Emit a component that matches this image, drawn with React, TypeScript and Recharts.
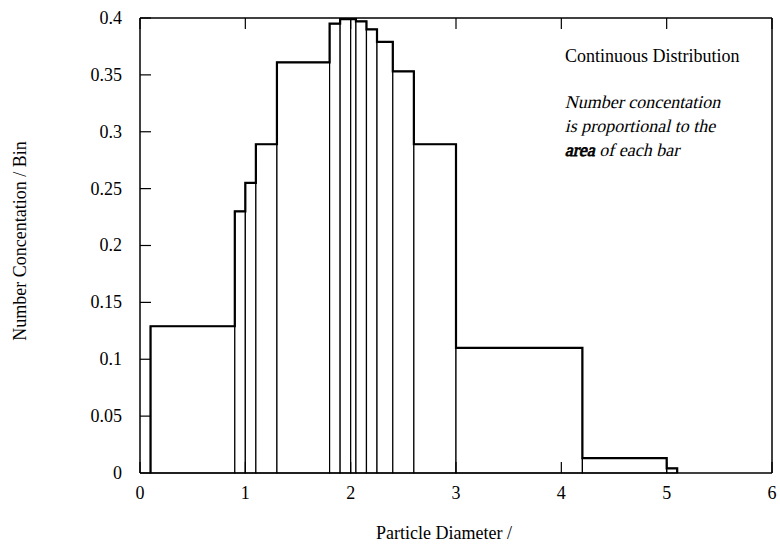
import React from "react";
import {
  ComposedChart,
  Line,
  XAxis,
  YAxis,
  ReferenceArea,
} from "recharts";

// bin edges (particle diameter) and height of each bin
const binEdges = [0.1, 0.9, 1.0, 1.1, 1.3, 1.8, 1.9, 2.0, 2.05, 2.15, 2.25, 2.4, 2.6, 3.0, 4.2, 5.0, 5.1];
const binValues = [0.129, 0.23, 0.255, 0.289, 0.361, 0.395, 0.399, 0.399, 0.397, 0.39, 0.379, 0.353, 0.289, 0.11, 0.013, 0.004];

const xTicks = [0, 1, 2, 3, 4, 5, 6];
const yTicks = [0, 0.05, 0.1, 0.15, 0.2, 0.25, 0.3, 0.35, 0.4];

const FONT = "'Liberation Serif', serif";
const TICK_LEN = 11;

// outline of the histogram as a step line
const outline = [
  { x: binEdges[0], y: 0 },
  ...binValues.map((v, i) => ({ x: binEdges[i], y: v })),
  { x: binEdges[binEdges.length - 1], y: 0 },
];

const LeftTick = (props: any) => {
  const { x, y, payload } = props;
  return (
    <g>
      <line x1={x + 18} x2={x + 18 + TICK_LEN} y1={y} y2={y} stroke="#000" strokeWidth={1.2} />
      <text x={x} y={y} dy="0.33em" textAnchor="end" fontFamily={FONT} fontSize={18} fill="#000">
        {payload.value}
      </text>
    </g>
  );
};

const BottomTick = (props: any) => {
  const { x, y, payload } = props;
  return (
    <g>
      <line x1={x} x2={x} y1={y - 26} y2={y - 26 - TICK_LEN} stroke="#000" strokeWidth={1.2} />
      <text x={x} y={y} textAnchor="middle" fontFamily={FONT} fontSize={18} fill="#000">
        {payload.value}
      </text>
    </g>
  );
};

const TopTick = (props: any) => {
  const { x, y } = props;
  return <line x1={x} x2={x} y1={y} y2={y + TICK_LEN} stroke="#000" strokeWidth={1.2} />;
};

const RightTick = (props: any) => {
  const { x, y } = props;
  return <line x1={x} x2={x - TICK_LEN} y1={y} y2={y} stroke="#000" strokeWidth={1.2} />;
};

const textStyle: React.CSSProperties = {
  position: "absolute",
  fontFamily: FONT,
  fontSize: 18,
  lineHeight: "24px",
  whiteSpace: "nowrap",
  color: "#000",
};

// only the regular serif face exists, so slant it by hand
const slant: React.CSSProperties = {
  display: "inline-block",
  transform: "skewX(-13deg)",
  transformOrigin: "0 70%",
};

export default function App() {
  return (
    <div style={{ position: "absolute", left: 0, top: 0, width: 780, height: 546, background: "#fff" }}>
      <ComposedChart width={780} height={546} data={outline} margin={{ top: 0, right: 0, bottom: 0, left: 0 }}>
        <XAxis
          dataKey="x"
          type="number"
          domain={[0, 6]}
          ticks={xTicks}
          interval={0}
          height={73}
          tickSize={0}
          tickMargin={26}
          tickLine={false}
          axisLine={{ stroke: "#000", strokeWidth: 1.5 }}
          tick={<BottomTick />}
        />
        <XAxis
          xAxisId="top"
          orientation="top"
          dataKey="x"
          type="number"
          domain={[0, 6]}
          ticks={xTicks}
          interval={0}
          height={18}
          tickSize={0}
          tickMargin={0}
          tickLine={false}
          axisLine={{ stroke: "#000", strokeWidth: 1.5 }}
          tick={<TopTick />}
        />
        <YAxis
          type="number"
          domain={[0, 0.4]}
          ticks={yTicks}
          interval={0}
          width={140}
          tickSize={0}
          tickMargin={18}
          tickLine={false}
          axisLine={{ stroke: "#000", strokeWidth: 1.5 }}
          tick={<LeftTick />}
        />
        <YAxis
          yAxisId="right"
          orientation="right"
          type="number"
          domain={[0, 0.4]}
          ticks={yTicks}
          interval={0}
          width={8}
          tickSize={0}
          tickMargin={0}
          tickLine={false}
          axisLine={{ stroke: "#000", strokeWidth: 1.5 }}
          tick={<RightTick />}
        />
        {binValues.map((v, i) => (
          <ReferenceArea
            key={i}
            x1={binEdges[i]}
            x2={binEdges[i + 1]}
            y1={0}
            y2={v}
            fill="#fff"
            fillOpacity={1}
            stroke="#000"
            strokeWidth={1.2}
          />
        ))}
        <Line
          type="stepAfter"
          dataKey="y"
          stroke="#000"
          strokeWidth={2.2}
          dot={false}
          activeDot={false}
          isAnimationActive={false}
        />
      </ComposedChart>

      {/* annotation */}
      <div style={{ ...textStyle, left: 565, top: 44 }}>Continuous Distribution</div>
      <div style={{ ...textStyle, left: 565, top: 90 }}>
        <div>
          <span style={slant}>Number concentation</span>
        </div>
        <div>
          <span style={slant}>is proportional to the</span>
        </div>
        <div>
          <span style={slant}>
            <span style={{ WebkitTextStroke: "0.8px #000" }}>area</span> of each bar
          </span>
        </div>
      </div>

      {/* axis titles */}
      <div style={{ ...textStyle, left: 20, top: 241, transform: "translate(-50%, -50%) rotate(-90deg)" }}>
        Number Concentation / Bin
      </div>
      <div style={{ ...textStyle, left: 444, top: 521, transform: "translateX(-50%)" }}>
        Particle Diameter /
      </div>
    </div>
  );
}
